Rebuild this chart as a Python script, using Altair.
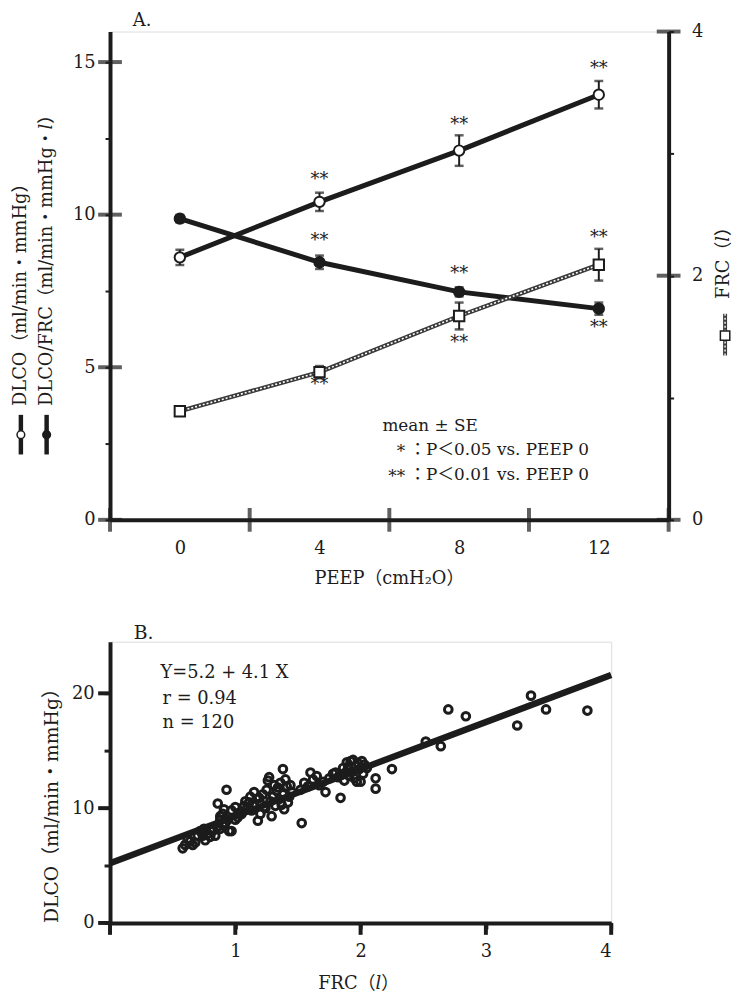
import altair as alt
import pandas as pd

INK = "#1c1c1c"
FONT = "DejaVu Serif, Noto Sans CJK JP"

# ---------------- Panel A data ----------------
peep = [0, 4, 8, 12]
dlco = [8.6, 10.42, 12.1, 13.93]
dlco_se = [0.25, 0.3, 0.5, 0.45]
ratio = [9.87, 8.44, 7.47, 6.92]
ratio_se = [0.12, 0.22, 0.15, 0.2]
frc = [0.89, 1.21, 1.67, 2.09]
frc_se = [0.03, 0.05, 0.11, 0.13]

star_x = [4, 8, 12, 4, 8, 12, 4, 8, 12]
star_y = [11.14, 12.92, 14.77, 9.12, 8.05, 6.27, 4.42, 5.78, 9.25]
star_t = ["**"] * 9

x_labels_A = [0, 4, 8, 12]
x_cross_A = [2, 6, 10]
yL_vals = [0, 2.5, 5, 7.5, 10, 12.5, 15]
yL_major = [0, 5, 10, 15]
yR_vals = [0, 1, 2, 3, 4]
yR_major = [0, 2, 4]

# ---------------- Panel B data ----------------
frc_b = [0.58, 0.60, 0.62, 0.64, 0.66, 0.68, 0.70, 0.72, 0.74, 0.75, 0.76, 0.78, 0.80, 0.80, 0.82, 0.84, 0.86, 0.88,
         0.86, 0.88, 0.90, 0.92, 0.93, 0.95, 0.97, 0.97, 1.00, 1.00, 1.02, 0.90, 0.88, 0.91, 0.94, 1.03,
         1.05, 1.07, 1.08, 1.09, 1.10, 1.11, 1.12, 1.13, 1.15, 1.15, 1.17, 1.18, 1.19, 1.20, 1.20, 1.22, 1.23, 1.24,
         1.25, 1.26, 1.27, 1.28, 1.29, 1.30, 1.31, 1.32, 1.33, 1.34, 1.35, 1.36, 1.37, 1.38, 1.38, 1.39, 1.40, 1.41,
         1.42, 1.43, 1.44, 1.45,
         1.52, 1.53, 1.55, 1.58, 1.60, 1.62, 1.65, 1.67, 1.70, 1.72, 1.75, 1.78, 1.80, 1.82, 1.84, 1.85, 1.86, 1.87,
         1.88, 1.89, 1.90, 1.91, 1.92, 1.93, 1.94, 1.95, 1.96, 1.97, 1.98, 1.99, 2.00, 2.01, 2.02, 2.03, 2.05,
         2.12, 2.12, 2.25, 2.52, 2.64, 2.70, 2.84, 3.25, 3.36, 3.48, 3.81]
dlco_b = [6.5, 6.8, 7.3, 7.1, 6.8, 7.0, 7.6, 8.0, 7.6, 8.2, 7.2, 7.8, 7.5, 8.1, 8.0, 7.6, 8.4, 8.2,
          10.4, 9.0, 9.5, 8.7, 11.6, 8.0, 8.0, 9.8, 10.1, 9.0, 9.2, 8.5, 9.3, 9.9, 9.0, 9.6,
          9.5, 10.2, 10.6, 9.9, 10.0, 10.5, 11.0, 9.8, 11.4, 10.3, 10.8, 8.9, 10.9, 9.5, 10.4, 11.2, 10.1, 10.0,
          11.6, 12.4, 12.7, 10.6, 9.3, 11.0, 12.0, 10.2, 11.5, 11.8, 10.8, 12.2, 10.3, 13.4, 11.2, 9.9, 12.5, 11.9,
          10.5, 11.0, 12.0, 11.4,
          11.6, 8.7, 12.2, 11.9, 13.1, 12.5, 12.8, 12.0, 12.3, 11.4, 12.6, 13.0, 13.1, 12.7, 10.9, 12.9, 13.5, 12.4,
          13.1, 14.0, 13.6, 12.8, 14.1, 13.2, 14.2, 12.6, 13.7, 12.3, 13.9, 13.4, 12.3, 14.1, 13.0, 13.8, 13.5,
          12.6, 11.7, 13.4, 15.8, 15.4, 18.6, 18.0, 17.2, 19.8, 18.6, 18.5]
fit_intercept, fit_slope = 5.2, 4.1
fit_x = [0, 4]
xB_vals = [0, 0.5, 1, 1.5, 2, 2.5, 3, 3.5, 4]
xB_major = [0, 1, 2, 3, 4]
yB_vals = [0, 5, 10, 15, 20]
yB_major = [0, 10, 20]

# ---------------- tables ----------------
dfA = pd.DataFrame({
    "peep": peep,
    "dlco": dlco,
    "dlco_lo": [m - s for m, s in zip(dlco, dlco_se)],
    "dlco_hi": [m + s for m, s in zip(dlco, dlco_se)],
    "ratio": ratio,
    "ratio_lo": [m - s for m, s in zip(ratio, ratio_se)],
    "ratio_hi": [m + s for m, s in zip(ratio, ratio_se)],
    "frc": frc,
    "frc_lo": [m - s for m, s in zip(frc, frc_se)],
    "frc_hi": [m + s for m, s in zip(frc, frc_se)],
})
dfStars = pd.DataFrame({"x": star_x, "y": star_y, "t": star_t})
dfYLmaj = pd.DataFrame({"x": [-2] * len(yL_major), "y": yL_major})
dfXcross = pd.DataFrame({"x": x_cross_A + [-2, 14], "y": [0] * (len(x_cross_A) + 2)})
dfYRmaj = pd.DataFrame({"x": [14] * len(yR_major), "y": yR_major})
one = pd.DataFrame({"a": [0]})

W_A, H_A = 564, 493
xsA = alt.Scale(domain=[-2, 14], nice=False, zero=False)
ysL = alt.Scale(domain=[0, 16], nice=False)
ysR = alt.Scale(domain=[0, 4], nice=False)

lab = dict(labelFont=FONT, labelFontSize=18, labelColor=INK, grid=False,
           domainColor=INK, domainWidth=4, tickColor=INK)
axXA = alt.Axis(values=x_labels_A, ticks=False, labelPadding=20, **lab)
axYL = alt.Axis(orient="left", values=yL_vals, tickSize=5, tickWidth=2, labelPadding=10,
                labelExpr="datum.value % 5 === 0 ? datum.label : ''", **lab)
axYR = alt.Axis(orient="right", values=yR_vals, tickSize=5, tickWidth=2, labelPadding=18,
                labelExpr="datum.value % 2 === 0 ? datum.label : ''", **lab)


def XA(f):
    return alt.X(f"{f}:Q", scale=xsA, axis=axXA, title=None)


def YL(f):
    return alt.Y(f"{f}:Q", scale=ysL, axis=axYL, title=None)


def YR(f):
    return alt.Y(f"{f}:Q", scale=ysR, axis=axYR, title=None)


def ptext(txt, x, y, size=18, align="left", angle=0, baseline="middle"):
    kw = dict(text=txt, font=FONT, fontSize=size, color=INK, align=align, baseline=baseline)
    if angle:
        kw["angle"] = angle
    return alt.Chart(one).mark_text(**kw).encode(x=alt.value(x), y=alt.value(y))


base = alt.Chart(dfA)

left_layers = [
    alt.Chart(dfYLmaj).mark_tick(orient="horizontal", size=24, thickness=4, color=INK).encode(x=XA("x"), y=YL("y")),
    alt.Chart(dfXcross).mark_tick(orient="vertical", size=24, thickness=4, color=INK).encode(x=XA("x"), y=YL("y")),
    base.mark_line(color=INK, strokeWidth=5).encode(x=XA("peep"), y=YL("dlco")),
    base.mark_rule(color=INK, strokeWidth=2).encode(x=XA("peep"), y=YL("dlco_lo"), y2="dlco_hi"),
    base.mark_tick(orient="horizontal", size=9, thickness=2.5, color=INK).encode(x=XA("peep"), y=YL("dlco_lo")),
    base.mark_tick(orient="horizontal", size=9, thickness=2.5, color=INK).encode(x=XA("peep"), y=YL("dlco_hi")),
    base.mark_line(color=INK, strokeWidth=5).encode(x=XA("peep"), y=YL("ratio")),
    base.mark_rule(color=INK, strokeWidth=2).encode(x=XA("peep"), y=YL("ratio_lo"), y2="ratio_hi"),
    base.mark_tick(orient="horizontal", size=9, thickness=2.5, color=INK).encode(x=XA("peep"), y=YL("ratio_lo")),
    base.mark_tick(orient="horizontal", size=9, thickness=2.5, color=INK).encode(x=XA("peep"), y=YL("ratio_hi")),
    base.mark_point(shape="circle", filled=True, fill="white", stroke=INK, strokeWidth=2, size=110, opacity=1)
        .encode(x=XA("peep"), y=YL("dlco")),
    base.mark_point(shape="circle", filled=True, fill=INK, stroke=INK, strokeWidth=2, size=110, opacity=1)
        .encode(x=XA("peep"), y=YL("ratio")),
    alt.Chart(dfStars).mark_text(font=FONT, fontSize=18, color=INK, baseline="middle")
        .encode(x=XA("x"), y=YL("y"), text="t:N"),
]

right_layers = [
    alt.Chart(dfYRmaj).mark_tick(orient="horizontal", size=24, thickness=4, color=INK).encode(x=XA("x"), y=YR("y")),
    base.mark_line(color="#3a3a3a", strokeWidth=4.5).encode(x=XA("peep"), y=YR("frc")),
    base.mark_line(color="white", strokeWidth=1.6, strokeDash=[2, 2]).encode(x=XA("peep"), y=YR("frc")),
    base.mark_rule(color=INK, strokeWidth=2).encode(x=XA("peep"), y=YR("frc_lo"), y2="frc_hi"),
    base.mark_tick(orient="horizontal", size=9, thickness=2.5, color=INK).encode(x=XA("peep"), y=YR("frc_lo")),
    base.mark_tick(orient="horizontal", size=9, thickness=2.5, color=INK).encode(x=XA("peep"), y=YR("frc_hi")),
    base.mark_point(shape="square", filled=True, fill="white", stroke=INK, strokeWidth=2, size=110, opacity=1)
        .encode(x=XA("peep"), y=YR("frc")),
]

deco_A = [
    ptext("A.", 23, -11, size=18),
    ptext("DLCO（ml/min・mmHg）", -90, 378, angle=270),
    ptext("DLCO/FRC（ml/min・mmHg・𝑙）", -64, 378, angle=270),
    alt.Chart(one).mark_rule(color=INK, strokeWidth=4.5).encode(x=alt.value(-90), y=alt.value(387), y2=alt.value(427)),
    alt.Chart(one).mark_point(shape="circle", filled=True, fill="white", stroke=INK, strokeWidth=1.5, size=60, opacity=1)
        .encode(x=alt.value(-90), y=alt.value(407)),
    alt.Chart(one).mark_rule(color=INK, strokeWidth=4.5).encode(x=alt.value(-64), y=alt.value(387), y2=alt.value(427)),
    alt.Chart(one).mark_point(shape="circle", filled=True, fill=INK, stroke=INK, strokeWidth=1.5, size=60, opacity=1)
        .encode(x=alt.value(-64), y=alt.value(407)),
    ptext("FRC（𝑙）", 620, 270, angle=270),
    alt.Chart(one).mark_rule(color="#3a3a3a", strokeWidth=4).encode(x=alt.value(621), y=alt.value(285), y2=alt.value(327)),
    alt.Chart(one).mark_rule(color="white", strokeWidth=1.4, strokeDash=[2, 2]).encode(x=alt.value(621), y=alt.value(285), y2=alt.value(327)),
    alt.Chart(one).mark_point(shape="square", filled=True, fill="white", stroke=INK, strokeWidth=1.5, size=90, opacity=1)
        .encode(x=alt.value(621), y=alt.value(307)),
    ptext("PEEP（cmH₂O）", W_A / 2, 553, align="center"),
    ptext("mean ± SE", 275, 398, size=17),
    ptext("*", 298, 425, size=17, align="right"),
    ptext("**", 298, 450, size=17, align="right"),
    ptext("：P＜0.05 vs. PEEP 0", 302, 423, size=17),
    ptext("：P＜0.01 vs. PEEP 0", 302, 448, size=17),
]

panelA = alt.layer(
    alt.layer(*(left_layers + deco_A)),
    alt.layer(*right_layers),
).resolve_scale(y="independent").properties(width=W_A, height=H_A)

# ---------------- Panel B ----------------
W_B, H_B = 506, 284
xsB = alt.Scale(domain=[0, 4], nice=False, zero=False)
ysB = alt.Scale(domain=[0, 24.5], nice=False)
axXB = alt.Axis(values=xB_vals, tickSize=6, tickWidth=3, labelPadding=14, format="d",
                labelExpr="(datum.value % 1 === 0 && datum.value > 0) ? datum.label : ''", **lab)
axYB = alt.Axis(values=yB_vals, tickSize=6, tickWidth=3, labelPadding=10,
                labelExpr="datum.value % 10 === 0 ? datum.label : ''", **lab)


def XB(f):
    return alt.X(f"{f}:Q", scale=xsB, axis=axXB, title=None)


def YB(f):
    return alt.Y(f"{f}:Q", scale=ysB, axis=axYB, title=None)


dfB = pd.DataFrame({"frc": frc_b, "dlco": dlco_b})
dfFit = pd.DataFrame({"x": fit_x, "y": [fit_intercept + fit_slope * v for v in fit_x]})
dfXBmaj = pd.DataFrame({"v": xB_major})
dfYBmaj = pd.DataFrame({"v": yB_major})

panelB = alt.layer(
    alt.Chart(dfXBmaj).mark_rule(color=INK, strokeWidth=4).encode(x=XB("v"), y=alt.value(H_B), y2=alt.value(H_B + 12)),
    alt.Chart(dfYBmaj).mark_rule(color=INK, strokeWidth=4).encode(y=YB("v"), x=alt.value(-12), x2=alt.value(0)),
    alt.Chart(dfFit).mark_line(color=INK, strokeWidth=6.5).encode(x=XB("x"), y=YB("y")),
    alt.Chart(dfB).mark_point(shape="circle", filled=False, stroke=INK, strokeWidth=3, size=60, opacity=1)
        .encode(x=XB("frc"), y=YB("dlco")),
    ptext("B.", 24, -9, size=19),
    ptext("Y=5.2 + 4.1 X", 51, 32),
    ptext("r = 0.94", 53, 58),
    ptext("n = 120", 53, 82),
    ptext("DLCO（ml/min・mmHg）", -59, 161, angle=270, align="center", size=19),
    ptext("FRC（𝑙）", 251, 346, align="center"),
).properties(width=W_B, height=H_B)

chart = alt.vconcat(panelA, panelB, spacing=123, bounds="flush").properties(
    padding={"left": 3, "top": -2, "right": 0, "bottom": 0}
).configure_view(stroke=None).configure(background="white")

chart.save("out.html", embed_options={"renderer": "svg", "actions": False})
